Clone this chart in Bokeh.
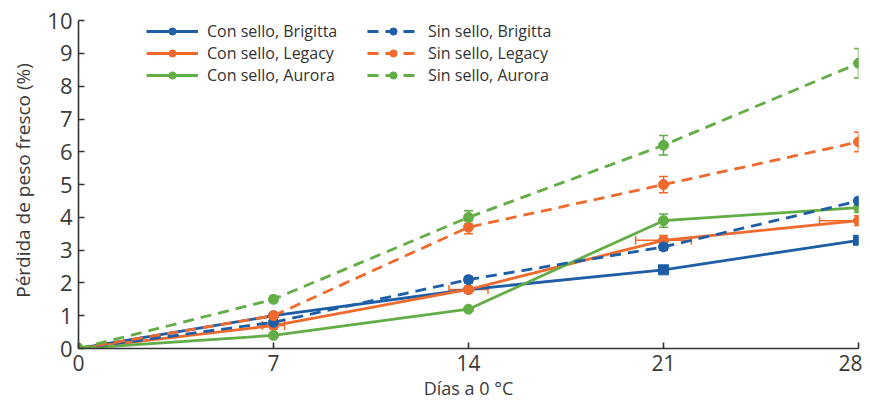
from bokeh.plotting import figure
from bokeh.models import ColumnDataSource, Whisker, TeeHead, Legend, LegendItem, FixedTicker
from bokeh.embed import file_html
from bokeh.resources import INLINE

dias = [0, 7, 14, 21, 28]

con_brigitta = [0, 1.0, 1.8, 2.4, 3.3]
con_legacy = [0, 0.7, 1.8, 3.3, 3.9]
con_aurora = [0, 0.4, 1.2, 3.9, 4.3]
sin_brigitta = [0, 0.8, 2.1, 3.1, 4.5]
sin_legacy = [0, 1.0, 3.7, 5.0, 6.3]
sin_aurora = [0, 1.5, 4.0, 6.2, 8.7]

err_con_brigitta = [0, 0.05, 0.05, 0.05, 0.1]
err_con_legacy = [0, 0.1, 0.1, 0.15, 0.15]
err_con_aurora = [0, 0.05, 0.05, 0.2, 0.15]
err_sin_brigitta = [0, 0.05, 0.1, 0.1, 0.1]
err_sin_legacy = [0, 0.1, 0.2, 0.25, 0.3]
err_sin_aurora = [0, 0.1, 0.2, 0.3, 0.45]

xerr_con_legacy = [0, 0.4, 0.7, 1.0, 1.4]

labels = ["Con sello, Brigitta", "Con sello, Legacy", "Con sello, Aurora",
          "Sin sello, Brigitta", "Sin sello, Legacy", "Sin sello, Aurora"]

BLUE = "#1d5ea6"
ORANGE = "#ef6a2c"
GREEN = "#63ad47"
AXC = "#333333"
FONT = "Open Sans"

p = figure(width=862, height=402, x_range=(0, 28), y_range=(0, 10.25),
           output_backend="svg", toolbar_location=None,
           min_border_left=78, min_border_right=4, min_border_top=12, min_border_bottom=53)
p.outline_line_color = None
p.xgrid.grid_line_color = None
p.ygrid.grid_line_color = None

series = [
    (con_brigitta, err_con_brigitta, BLUE, "solid", ["circle", "circle", "circle", "square", "square"]),
    (con_legacy, err_con_legacy, ORANGE, "solid", ["circle"] * 5),
    (con_aurora, err_con_aurora, GREEN, "solid", ["circle"] * 5),
    (sin_brigitta, err_sin_brigitta, BLUE, "11 7", ["circle"] * 5),
    (sin_legacy, err_sin_legacy, ORANGE, "11 7", ["circle"] * 5),
    (sin_aurora, err_sin_aurora, GREEN, "11 7", ["circle"] * 5),
]

items = []
for (ys, err, col, dash, mk), lab in zip(series, labels):
    src = ColumnDataSource(dict(x=dias, y=ys, m=mk,
                                lo=[a - b for a, b in zip(ys, err)],
                                hi=[a + b for a, b in zip(ys, err)]))
    w = Whisker(source=src, base="x", upper="hi", lower="lo", line_color=col, line_width=1.5,
                upper_head=TeeHead(size=9, line_color=col, line_width=1.5),
                lower_head=TeeHead(size=9, line_color=col, line_width=1.5))
    p.add_layout(w)
    r1 = p.line("x", "y", source=src, line_color=col, line_width=2.8, line_dash=dash)
    r2 = p.scatter("x", "y", source=src, marker="m", size=10, fill_color=col, line_color=col)
    items.append(LegendItem(label=lab, renderers=[r1, r2]))

# horizontal error bars (Con sello, Legacy)
hsrc = ColumnDataSource(dict(y=con_legacy,
                             lo=[a - b for a, b in zip(dias, xerr_con_legacy)],
                             hi=[a + b for a, b in zip(dias, xerr_con_legacy)]))
p.add_layout(Whisker(source=hsrc, base="y", upper="hi", lower="lo", dimension="width",
                     line_color=ORANGE, line_width=1.5,
                     upper_head=TeeHead(size=9, line_color=ORANGE, line_width=1.5),
                     lower_head=TeeHead(size=9, line_color=ORANGE, line_width=1.5)))

for k, loc in ((0, (68, 262)), (1, (289, 262))):
    lg = Legend(items=items[k * 3:(k + 1) * 3], location=loc,
                label_text_font=FONT, label_text_font_size="16px", label_text_color="#333333",
                glyph_width=52, glyph_height=18, label_height=18, spacing=0, padding=4,
                label_standoff=9, background_fill_alpha=0, border_line_color=None)
    p.add_layout(lg)

p.xaxis.ticker = FixedTicker(ticks=dias)
p.yaxis.ticker = FixedTicker(ticks=list(range(0, 11)))
p.yaxis.bounds = (0, 10)
for ax in (p.xaxis, p.yaxis):
    ax.axis_line_color = AXC
    ax.axis_line_width = 1.6
    ax.major_tick_line_color = AXC
    ax.major_tick_line_width = 1.6
    ax.major_tick_in = 6
    ax.major_tick_out = 0
    ax.minor_tick_line_color = None
    ax.major_label_text_font = FONT
    ax.major_label_text_color = "#3a3a3a"
    ax.axis_label_text_font = FONT
    ax.axis_label_text_font_style = "normal"
    ax.axis_label_text_color = "#3a3a3a"

p.xaxis.major_label_text_font_size = "21px"
p.yaxis.major_label_text_font_size = "22px"
p.xaxis.major_label_standoff = 6
p.yaxis.major_label_standoff = 6
p.xaxis.axis_label = "Días a 0 °C"
p.yaxis.axis_label = "Pérdida de peso fresco (%)"
p.xaxis.axis_label_text_font_size = "18px"
p.yaxis.axis_label_text_font_size = "19px"
p.xaxis.axis_label_standoff = 2
p.yaxis.axis_label_standoff = 8

open("out.html", "w").write(file_html(p, INLINE))
